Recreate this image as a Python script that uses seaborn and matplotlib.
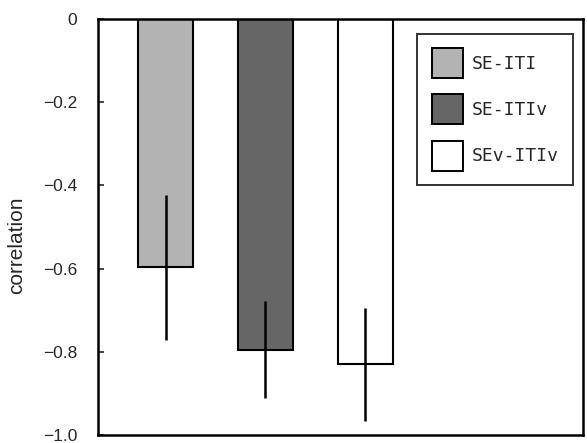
import matplotlib
matplotlib.use("Agg")
import matplotlib.pyplot as plt
import seaborn as sns
import pandas as pd

# Mean correlation per condition and its error-bar half-width
conditions = ["SE-ITI", "SE-ITIv", "SEv-ITIv"]
correlation = [-0.597, -0.795, -0.830]
error = [0.175, 0.117, 0.136]
bar_colors = ["#b3b3b3", "#666666", "#ffffff"]
ytick_values = [0, -0.2, -0.4, -0.6, -0.8, -1.0]
ytick_labels = ["0", "\u22120.2", "\u22120.4", "\u22120.6", "\u22120.8", "\u22121.0"]

df = pd.DataFrame({"condition": conditions, "correlation": correlation})

sns.set_style("white")
plt.rcParams["font.family"] = ["Liberation Sans", "DejaVu Sans"]

fig = plt.figure(figsize=(5.87, 4.43), dpi=100)
ax = fig.add_axes([0.167, 0.018, 0.826, 0.939])

sns.barplot(
    data=df, x="condition", y="correlation", hue="condition",
    palette=dict(zip(conditions, bar_colors)), order=conditions,
    hue_order=conditions, width=0.55, errorbar=None, dodge=False,
    edgecolor="black", linewidth=1.5, legend=True, ax=ax,
)

# error bars drawn from the same means
ax.errorbar(range(len(conditions)), correlation, yerr=error, fmt="none",
            ecolor="black", elinewidth=1.8, capsize=0)

ax.set_ylim(-1.0, 0)
ax.set_xlim(-0.675, 4.175)
ax.set_yticks(ytick_values)
ax.set_yticklabels(ytick_labels, fontsize=12.5)
ax.tick_params(axis="y", direction="in", length=4, width=1.2, left=True, pad=15)
ax.set_xticks([])
ax.set_xlabel("")
ax.set_ylabel("correlation", fontsize=15)
ax.yaxis.set_label_coords(-0.148, 0.457)

for side in ["left", "right", "top", "bottom"]:
    ax.spines[side].set_visible(True)
    ax.spines[side].set_color("black")
    ax.spines[side].set_linewidth(1.8)

leg = ax.legend(
    loc="upper right", bbox_to_anchor=(0.979, 0.964), frameon=True,
    fancybox=False, edgecolor="black",
    prop={"family": ["DejaVu Sans Mono", "DejaVu Sans"], "size": 13},
    handlelength=1.72, handleheight=2.18, labelspacing=0.9, borderpad=0.78,
    handletextpad=0.5, borderaxespad=0.0,
)
leg.get_frame().set_linewidth(1.4)
for h in leg.legend_handles:
    h.set_edgecolor("black")
    h.set_linewidth(1.4)

fig.savefig("out.png", dpi=100)
